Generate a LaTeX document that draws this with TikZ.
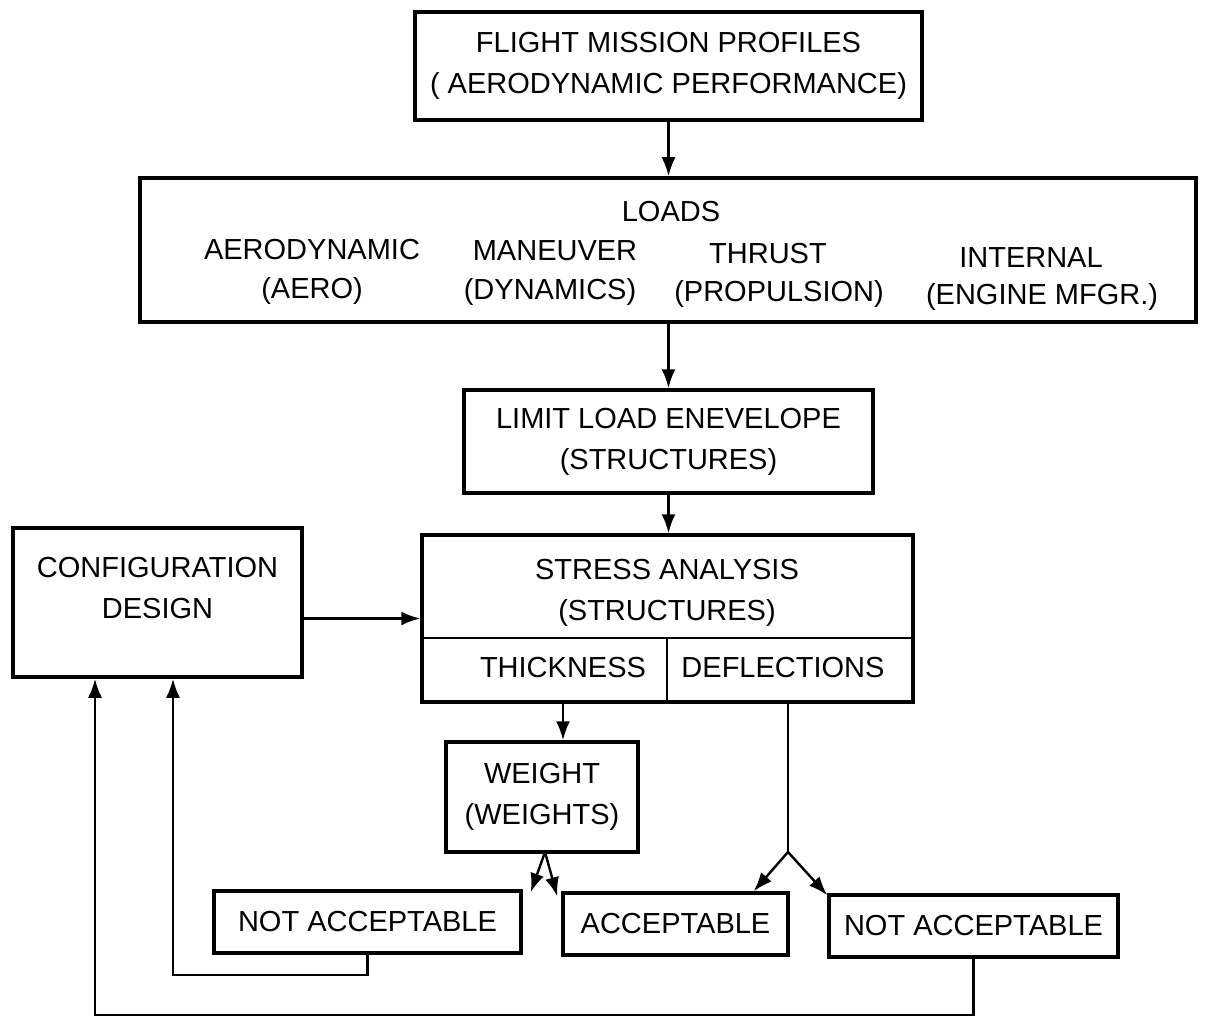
\documentclass[tikz,border=0pt]{standalone}
\usepackage{fontspec}
\setmainfont{Liberation Sans}
\usetikzlibrary{arrows.meta}
\begin{document}
\begin{tikzpicture}[x=1pt,y=-1pt,
  lbl/.style={font=\fontsize{29}{41}\selectfont, align=center, inner sep=0pt},
  blk/.style={draw, line width=3.5pt, inner sep=0pt, lbl},
  conn/.style={line width=2.4pt},
  arr/.style={conn, -{Latex[length=19pt,width=14pt]}}
]
\useasboundingbox (0,0) rectangle (1210,1019);

% mission profiles
\node[blk, minimum width=507pt, minimum height=108pt] (prof) at (668.5,66)
  {FLIGHT MISSION PROFILES\\( AERODYNAMIC PERFORMANCE)};

% loads
\node[blk, minimum width=1056pt, minimum height=144pt] (loads) at (668,250) {};
\node[lbl] (loadsT) at (671,212) {LOADS};
\node[lbl] (aero)  at (312,250) {AERODYNAMIC};
\node[lbl] (aeroS) at (312,291) {(AERO)};
\node[lbl] (man)   at (555,251) {MANEUVER};
\node[lbl] (manS)  at (550,292) {(DYNAMICS)};
\node[lbl] (thr)   at (768,254) {THRUST};
\node[lbl] (thrS)  at (779,294) {(PROPULSION)};
\node[lbl] (intl)  at (1031,258) {INTERNAL};
\node[lbl] (intlS) at (1042,297) {(ENGINE MFGR.)};

% limit load envelope
\node[blk, minimum width=409pt, minimum height=103pt] (lim) at (668.5,441.5)
  {LIMIT LOAD ENEVELOPE\\(STRUCTURES)};

% stress analysis
\node[blk, minimum width=491pt, minimum height=167pt] (stress) at (667.5,618.5) {};
\node[lbl, text depth=0pt] (stressT) at (667,590) {STRESS ANALYSIS\\(STRUCTURES)};
\draw[line width=2.6pt] (stress.west |- 0,638) -- (stress.east |- 0,638);
\draw[line width=1.4pt] (667,638) -- (667,702);
\node[lbl] (thick) at (563,668) {THICKNESS};
\node[lbl] (defl)  at (783,668) {DEFLECTIONS};

% configuration design
\node[blk, minimum width=289pt, minimum height=149pt] (cfg) at (157.5,602.5) {};
\node[lbl] (cfgT) at (157.5,588) {CONFIGURATION\\DESIGN};

% weight
\node[blk, minimum width=192pt, minimum height=110pt] (wt) at (542,797)
  {WEIGHT\\(WEIGHTS)};

% outcomes
\node[blk, minimum width=307pt, minimum height=62pt] (na1) at (367.5,922) {NOT ACCEPTABLE};
\node[blk, minimum width=225pt, minimum height=62pt] (acc) at (675.5,924) {ACCEPTABLE};
\node[blk, minimum width=289pt, minimum height=62pt] (na2) at (973.5,926) {NOT ACCEPTABLE};

% main flow
\draw[arr] (prof.south) -- (prof.south |- loads.north);
\draw[arr] (lim.north |- loads.south) -- (lim.north);
\draw[arr] (lim.south) -- (lim.south |- stress.north);
\draw[arr] (cfg.east |- stress.west) -- (stress.west);
\draw[arr] (thick.south |- stress.south) -- (thick.south |- wt.north);

% weight decision
\coordinate (wsplit) at (545,852);
\draw[arr] (wsplit) -- ([xshift=8pt,yshift=-3pt]na1.north east);
\draw[arr] (wsplit) -- ([xshift=-4pt,yshift=-5pt]acc.north west);

% deflection decision
\coordinate (dsplit) at (788,852);
\draw[conn] (dsplit |- stress.south) -- (dsplit);
\draw[arr] (dsplit) -- ([xshift=-36pt]acc.north east);
\draw[arr] (dsplit) -- ([yshift=-2pt]na2.north west);

% feedback to configuration design
\draw[arr] (na1.south) -- ++(0,20) -| ([xshift=15.5pt]cfg.south);
\draw[arr] (na2.south) -- (na2.south |- 0,1015) -| ([xshift=-62.5pt]cfg.south);
\end{tikzpicture}
\end{document}
